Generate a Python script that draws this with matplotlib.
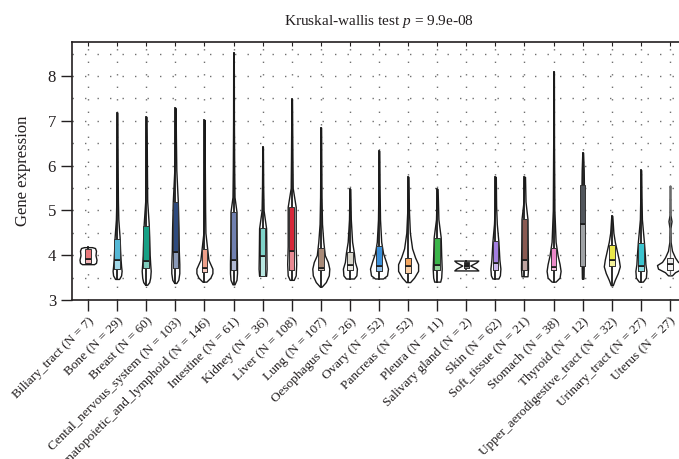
import numpy as np
import matplotlib
matplotlib.use("Agg")
import matplotlib.pyplot as plt
from matplotlib.patches import Rectangle
from matplotlib.colors import to_rgb

plt.rcParams['font.family'] = ['Liberation Serif', 'DejaVu Serif']
plt.rcParams['mathtext.fontset'] = 'custom'
plt.rcParams['mathtext.rm'] = 'Liberation Serif'
plt.rcParams['mathtext.it'] = 'Liberation Serif:italic'

# tissue groups and sample counts
tissues = ['Biliary_tract', 'Bone', 'Breast', 'Cental_nervous_system',
           'Haematopoietic_and_lymphoid', 'Intestine', 'Kidney', 'Liver', 'Lung',
           'Oesophagus', 'Ovary', 'Pancreas', 'Pleura', 'Salivary gland', 'Skin',
           'Soft_tissue', 'Stomach', 'Thyroid', 'Upper_aerodigestive_tract',
           'Urinary_tract', 'Uterus']
counts = [7, 29, 60, 103, 146, 61, 36, 108, 107, 26, 52, 52, 11, 2, 62, 21, 38,
          12, 32, 27, 27]

# box statistics: lower whisker, q1, median, q3, upper whisker
whislo = [3.80, 3.47, 3.34, 3.38, 3.41, 3.35, 3.54, 3.45, 3.30, 3.48, 3.48,
          3.40, 3.41, 3.70, 3.48, 3.53, 3.41, 3.48, 3.33, 3.41, 3.55]
q1 = [3.83, 3.70, 3.71, 3.71, 3.63, 3.67, 3.54, 3.67, 3.67, 3.67, 3.65, 3.60,
      3.67, 3.71, 3.67, 3.67, 3.67, 3.75, 3.75, 3.65, 3.67]
median = [3.92, 3.90, 3.87, 4.07, 3.72, 3.90, 3.98, 4.10, 3.72, 3.78, 3.75,
          3.75, 3.79, 3.77, 3.82, 3.90, 3.73, 4.69, 3.90, 3.77, 3.80]
q3 = [4.14, 4.36, 4.66, 5.19, 4.13, 4.97, 4.60, 5.08, 4.17, 4.08, 4.20, 3.94,
      4.38, 3.84, 4.32, 4.80, 4.17, 5.57, 4.22, 4.28, 3.94]
whishi = [4.18, 7.18, 7.09, 7.29, 7.02, 8.52, 6.42, 7.48, 6.85, 5.48, 6.33,
          5.75, 5.48, 3.88, 5.75, 5.75, 8.10, 6.29, 4.88, 5.90, 5.55]

# violin outlines: expression levels and kernel density (half width)
violin_y = [
    [3.80, 3.83, 3.90, 4.00, 4.10, 4.16, 4.18],
    [3.47, 3.55, 3.65, 3.75, 3.90, 4.10, 4.40, 4.80, 5.20, 5.80, 6.50, 7.18],
    [3.34, 3.40, 3.50, 3.65, 3.80, 4.00, 4.40, 4.70, 5.20, 6.00, 6.70, 7.09],
    [3.38, 3.45, 3.60, 3.80, 4.10, 4.60, 5.20, 5.90, 6.60, 7.29],
    [3.41, 3.50, 3.60, 3.70, 3.80, 3.90, 4.10, 4.50, 5.00, 6.00, 7.02],
    [3.35, 3.45, 3.60, 3.80, 4.20, 4.97, 5.30, 5.90, 7.00, 8.52],
    [3.54, 3.70, 4.00, 4.60, 5.00, 5.50, 6.42],
    [3.45, 3.55, 3.80, 4.20, 5.08, 5.50, 6.20, 7.48],
    [3.30, 3.40, 3.55, 3.70, 3.85, 4.00, 4.30, 4.70, 5.30, 6.85],
    [3.48, 3.55, 3.70, 3.85, 4.05, 4.30, 4.80, 5.48],
    [3.48, 3.55, 3.70, 3.85, 4.05, 4.30, 4.80, 5.50, 6.33],
    [3.40, 3.50, 3.65, 3.80, 3.95, 4.15, 4.50, 5.00, 5.75],
    [3.41, 3.50, 3.70, 4.00, 4.40, 4.80, 5.48],
    [3.66, 3.70, 3.77, 3.84, 3.88],
    [3.48, 3.55, 3.70, 3.90, 4.30, 4.70, 5.10, 5.75],
    [3.53, 3.70, 4.20, 4.80, 5.20, 5.75],
    [3.41, 3.50, 3.65, 3.80, 4.00, 4.30, 5.00, 6.50, 8.10],
    [3.48, 3.75, 4.70, 5.57, 5.90, 6.29],
    [3.33, 3.45, 3.60, 3.75, 3.90, 4.10, 4.30, 4.50, 4.88],
    [3.41, 3.50, 3.65, 3.80, 4.00, 4.30, 4.80, 5.30, 5.90],
    [3.55, 3.62, 3.70, 3.78, 3.85, 3.95, 4.10, 4.30, 4.60, 4.76, 4.90, 5.30, 5.55],
]
violin_d = [
    [6, 8, 8.5, 7.5, 8, 7, 4],
    [2, 4, 4.5, 4, 3.5, 3, 2.5, 1.2, 0.8, 0.6, 0.4, 0.3],
    [1, 3, 4, 4.5, 4, 3.5, 3, 2.5, 1.0, 0.7, 0.5, 0.3],
    [1, 3, 4, 4, 3.5, 3.2, 2.5, 1.0, 0.6, 0.3],
    [2, 6, 8, 8, 6, 4, 3, 1.0, 0.7, 0.4, 0.3],
    [1, 3, 3.5, 3.5, 3.2, 3, 1.0, 0.7, 0.4, 0.3],
    [3.5, 4, 3.8, 3.5, 1.0, 0.6, 0.3],
    [2, 4, 4.5, 4, 4, 1.0, 0.7, 0.3],
    [1, 5, 8, 8.5, 7, 4, 2.5, 1.2, 0.7, 0.3],
    [4, 6.5, 7, 5, 4, 2.2, 0.9, 0.4],
    [4, 8, 9, 7, 4, 2.2, 1.0, 0.6, 0.3],
    [2, 6, 10, 10, 7, 4, 1.8, 0.8, 0.4],
    [3, 4, 4.5, 4, 3.5, 1.2, 0.4],
    [12, 10, 4, 10, 12],
    [3, 4.5, 5, 4, 3, 1.4, 0.7, 0.4],
    [3, 3.5, 3.2, 3, 1.0, 0.5],
    [2, 6, 7, 6, 4, 2, 0.8, 0.4, 0.3],
    [0.8, 1.0, 1.2, 1.2, 1.0, 0.4],
    [1, 3, 6, 8, 7, 5, 3, 1.6, 0.5],
    [2, 5, 5.5, 4.5, 4, 3, 1.0, 0.6, 0.3],
    [2, 5, 12, 13, 8, 5, 2, 0.6, 0.4, 1.5, 0.4, 0.3, 0.3],
]

box_colors = ['#e8777a', '#55b8d6', '#17a085', '#2e4a7d', '#f0a08a', '#7080b0',
              '#7fd3c9', '#d62839', '#a88a78', '#d9d6cb', '#3a8fd9', '#f3a55e',
              '#3bb54a', '#222222', '#a37fe0', '#8a5a52', '#ec89c9', '#51565c',
              '#ebe84a', '#3cc4cf', '#e8e8e8']

px = 1 / 29.1           # one pixel in category units
positions = np.arange(len(tissues))

fig = plt.figure(figsize=(6.79, 4.59), dpi=100)
ax = fig.add_axes([72 / 679, 1 - 300 / 459, 614 / 679, 258 / 459])

# dotted grid
for y in np.arange(3.5, 8.76, 0.5):
    ax.axhline(y, color='#707070', lw=1.0, ls=(0, (1, 8)), zorder=0)
for x in positions:
    ax.axvline(x, color='#707070', lw=1.0, ls=(0, (1, 8)), zorder=0)

# violins
vpstats = []
widths = []
for ys, ds, med in zip(violin_y, violin_d, median):
    vals = np.array(ds) * px
    vpstats.append({'coords': np.array(ys), 'vals': vals, 'mean': med,
                    'median': med, 'min': ys[0], 'max': ys[-1]})
    widths.append(2 * vals.max())
parts = ax.violin(vpstats, positions=positions, widths=widths,
                  showmeans=False, showextrema=False, showmedians=False)
for body in parts['bodies']:
    body.set_facecolor('white')
    body.set_edgecolor('#1a1a1a')
    body.set_linewidth(1.0)
    body.set_alpha(1)
    body.set_zorder(2)

# boxplots inside the violins
bstats = [{'med': m, 'q1': a, 'q3': b, 'whislo': lo, 'whishi': hi, 'fliers': []}
          for lo, a, m, b, hi in zip(whislo, q1, median, q3, whishi)]
box_w = 5.5 * px
bp = ax.bxp(bstats, positions=positions, widths=box_w, patch_artist=True,
            showcaps=False, showfliers=False,
            whiskerprops=dict(color='#1a1a1a', lw=1.3),
            medianprops=dict(color='#1a1a1a', lw=1.2),
            boxprops=dict(edgecolor='#333333', lw=0.7))
for i, patch in enumerate(bp['boxes']):
    patch.set_facecolor(box_colors[i])
    patch.set_zorder(3)
    light = 0.55 * np.array(to_rgb(box_colors[i])) + 0.45
    ax.add_patch(Rectangle((positions[i] - box_w / 2, q1[i]), box_w,
                           median[i] - q1[i], facecolor=light,
                           edgecolor='#333333', lw=0.7, zorder=3.1))
for m in bp['medians']:
    m.set_zorder(3.2)
for w in bp['whiskers'][-2:]:
    w.set_color('#6a6a6a')
    w.set_linewidth(0.9)

ax.set_xlim(-0.55, 20.55)
ax.set_ylim(3, 8.76)
ax.set_yticks([3, 4, 5, 6, 7, 8])
ax.set_xticks(positions)
ax.set_xticklabels([f'{t} (N = {n})' for t, n in zip(tissues, counts)],
                   rotation=45, ha='right', rotation_mode='anchor',
                   color='#231f20')
ax.tick_params(axis='both', direction='out', length=8, width=1.0,
               colors='#231f20', labelsize=12)
ax.tick_params(axis='x', labelsize=9.5, pad=3)
for s in ax.spines.values():
    s.set_linewidth(1.2)
    s.set_color('#231f20')

# short inward ticks along the top spine
top = ax.secondary_xaxis('top')
top.set_xticks(positions)
top.set_xticklabels([])
top.tick_params(direction='in', length=3, width=0.8, colors='#231f20')
top.spines['top'].set_visible(False)

ax.set_ylabel('Gene expression', fontsize=12, color='#231f20', labelpad=12)
ax.set_title('Kruskal-wallis test $p$ = 9.9e-08', fontsize=11, color='#231f20',
             pad=12)

fig.savefig('out.png', dpi=100)
